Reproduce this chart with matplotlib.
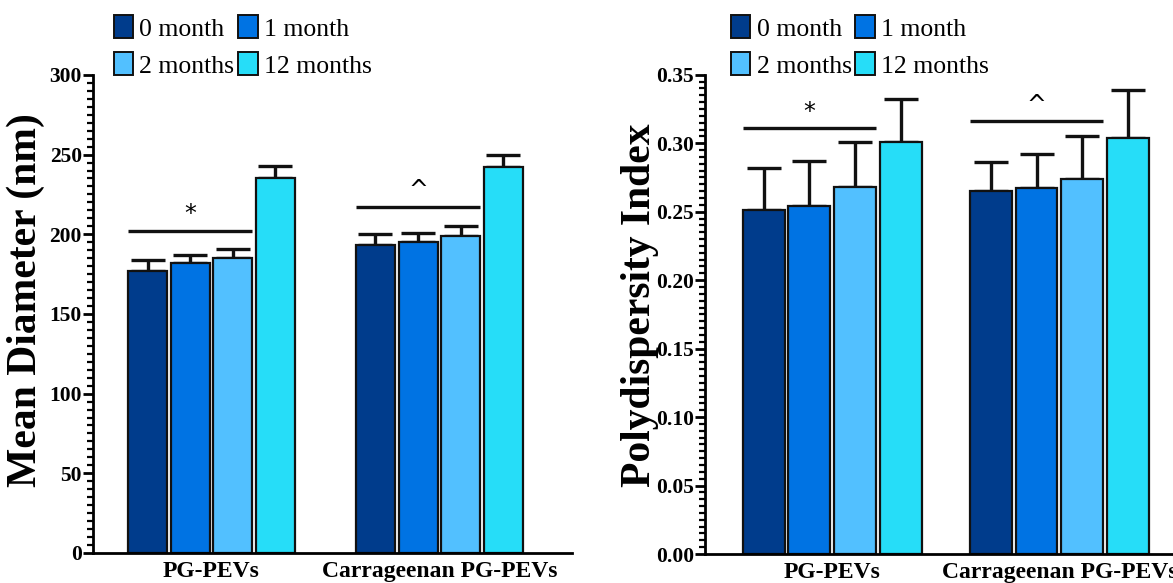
import numpy as np
import matplotlib
matplotlib.use("Agg")
import matplotlib.pyplot as plt
from matplotlib.ticker import MultipleLocator
from matplotlib.patches import Patch

plt.rcParams['font.family'] = ['Liberation Serif', 'DejaVu Serif']

groups = ["PG-PEVs", "Carrageenan PG-PEVs"]
series = ["0 month", "1 month", "2 months", "12 months"]
colors = ["#003c8c", "#0073e3", "#52c0ff", "#26ddf8"]

# mean diameter (nm), rows = series, cols = groups
diam = np.array([[177, 193],
                 [182, 195],
                 [185, 199],
                 [235, 242]])
diam_err = np.array([[7, 7],
                     [5, 6],
                     [6, 6],
                     [8, 8]])

# polydispersity index
pdi = np.array([[0.251, 0.265],
                [0.254, 0.267],
                [0.268, 0.274],
                [0.301, 0.304]])
pdi_err = np.array([[0.031, 0.021],
                    [0.033, 0.025],
                    [0.033, 0.031],
                    [0.031, 0.035]])

# significance bars: (group, y, symbol)
diam_sig = [(0, 202, "*"), (1, 217, "^")]
pdi_sig = [(0, 0.311, "*"), (1, 0.3165, "^")]

fig = plt.figure(figsize=(11.73, 5.83), dpi=100)


def panel(rect, vals, errs, sig, pitch, width, xlim, ylim, major, minor,
          ylabel, fmt, sig_off, lab_xy):
    ax = fig.add_axes(rect)
    x = np.arange(len(groups))
    for i in range(len(series)):
        pos = x + (i - 1.5) * pitch
        ax.bar(pos, vals[i], width, color=colors[i], edgecolor="#111111",
               linewidth=1.6, zorder=2)
        ax.errorbar(pos, vals[i], yerr=[np.zeros(len(groups)), errs[i]],
                    fmt="none", ecolor="#111111", elinewidth=2.4,
                    capsize=12, capthick=2.4, zorder=1)
    for g, y, s in sig:
        x0 = g - 1.5 * pitch - width / 2
        x1 = g + 0.5 * pitch + width / 2
        ax.plot([x0, x1], [y, y], color="#111111", lw=2.4, solid_capstyle="butt")
        ax.text((x0 + x1) / 2, y + sig_off, s, ha="center", va="bottom",
                fontsize=17, family="DejaVu Sans")
    ax.set_xlim(*xlim)
    ax.set_ylim(*ylim)
    ax.set_xticks(x)
    ax.set_xticklabels(groups, fontsize=17, fontweight="bold")
    ax.tick_params(axis="x", length=0, pad=6)
    ax.yaxis.set_major_locator(MultipleLocator(major))
    ax.yaxis.set_minor_locator(MultipleLocator(minor))
    ax.yaxis.set_major_formatter(fmt)
    ax.tick_params(axis="y", which="major", length=7, width=2, labelsize=15.5,
                   pad=1)
    ax.tick_params(axis="y", which="minor", length=4, width=1.6)
    for lab in ax.get_yticklabels():
        lab.set_fontweight("bold")
    for sp in ["top", "right"]:
        ax.spines[sp].set_visible(False)
    for sp in ["left", "bottom"]:
        ax.spines[sp].set_linewidth(2)
    ax.set_ylabel(ylabel, fontsize=30, fontweight="bold")
    ax.yaxis.set_label_coords(*lab_xy)
    return ax


ax1 = panel([0.0793, 0.0515, 0.408, 0.82], diam, diam_err, diam_sig,
            0.187, 0.172, (-0.52, 1.58), (0, 300), 50, 5,
            "Mean Diameter (nm)", "{x:.0f}", 3, (-0.1, 0.53))
ax2 = panel([0.601, 0.0497, 0.399, 0.822], pdi, pdi_err, pdi_sig,
            0.201, 0.184, (-0.56, 1.5), (0, 0.35), 0.05, 0.005,
            "Polydispersity Index", "{x:.2f}", 0.003, (-0.098, 0.52))

handles = [Patch(facecolor=c, edgecolor="#111111", linewidth=1.4) for c in colors]
# legend fills column-wise, reorder so rows read 0/1 then 2/12
order = [0, 2, 1, 3]
for ax, xa in [(ax1, 0.0838), (ax2, 0.6100)]:
    fig.legend([handles[k] for k in order], [series[k] for k in order],
               loc="upper left", bbox_to_anchor=(xa, 1.0),
               ncol=2, frameon=False, fontsize=18.5, handlelength=0.75,
               handleheight=1.0, handletextpad=0.25, columnspacing=0.15,
               labelspacing=0.45, borderaxespad=0.2)

fig.savefig("out.png", dpi=100)
